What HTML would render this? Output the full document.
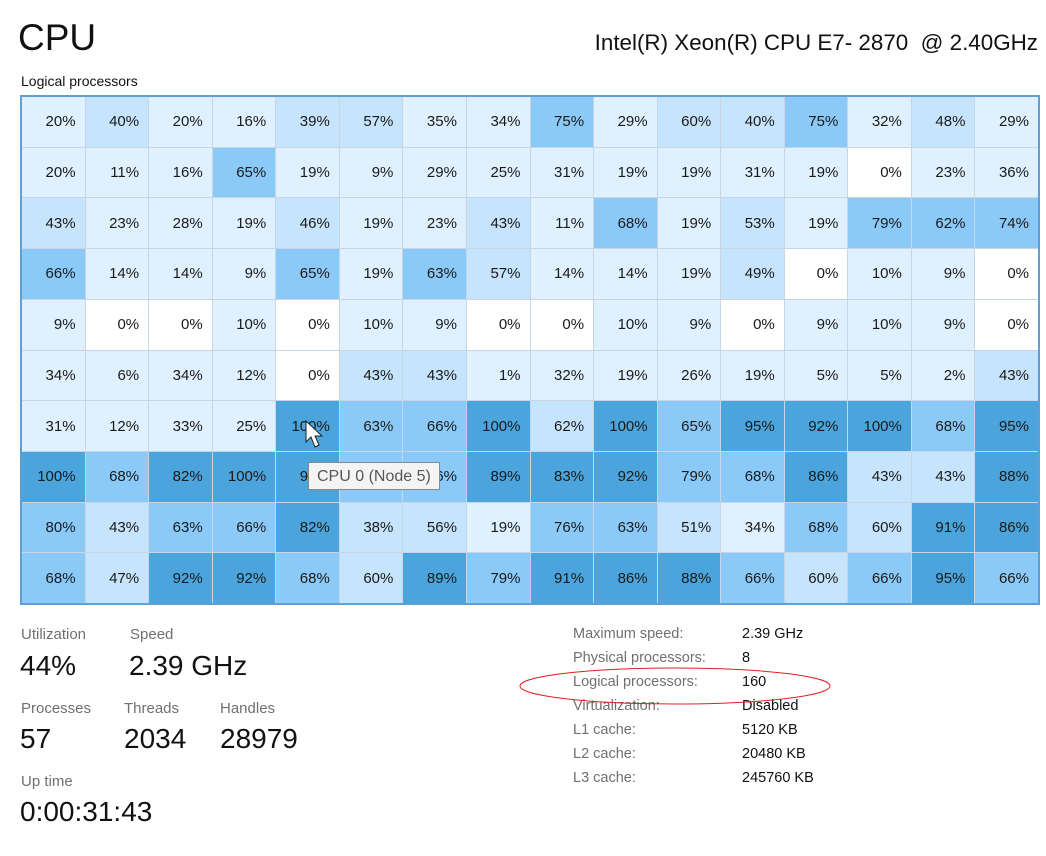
<!DOCTYPE html>
<html><head><meta charset="utf-8"><style>
body{margin:0;width:1046px;height:856px;background:#fff;font-family:"Liberation Sans",sans-serif;position:relative;overflow:hidden;color:#111}
.abs{position:absolute;white-space:nowrap}
#grid{position:absolute;left:20px;top:95px;width:1016px;height:506px;border:2px solid #5f9fd4;background:#c8d6e2;display:grid;grid-template-columns:repeat(16,1fr);grid-template-rows:repeat(10,1fr);gap:1px}
#grid div{text-align:right;padding-right:9px;font-size:15px;display:flex;align-items:center;justify-content:flex-end;color:#1a1a1a}
.a{background:#fff}.b{background:#dff0fe}.c{background:#c6e4fb}.d{background:#8bc9f9}.e{background:#4ba4dc}
.lbl{color:#707070;font-size:15px}
.val{font-size:28px;color:#111}
.rl{color:#707070;font-size:14.5px}
.rv{font-size:14.5px;color:#111}
</style></head><body>
<div class="abs" style="left:18px;top:17px;font-size:37px">CPU</div>
<div class="abs" style="right:8px;top:30px;font-size:22.4px">Intel(R) Xeon(R) CPU E7- 2870&nbsp; @ 2.40GHz</div>
<div class="abs" style="left:21px;top:73px;font-size:14px">Logical processors</div>
<div id="grid">
<div class="b">20%</div><div class="c">40%</div><div class="b">20%</div><div class="b">16%</div><div class="c">39%</div><div class="c">57%</div><div class="b">35%</div><div class="b">34%</div><div class="d">75%</div><div class="b">29%</div><div class="c">60%</div><div class="c">40%</div><div class="d">75%</div><div class="b">32%</div><div class="c">48%</div><div class="b">29%</div>
<div class="b">20%</div><div class="b">11%</div><div class="b">16%</div><div class="d">65%</div><div class="b">19%</div><div class="b">9%</div><div class="b">29%</div><div class="b">25%</div><div class="b">31%</div><div class="b">19%</div><div class="b">19%</div><div class="b">31%</div><div class="b">19%</div><div class="a">0%</div><div class="b">23%</div><div class="b">36%</div>
<div class="c">43%</div><div class="b">23%</div><div class="b">28%</div><div class="b">19%</div><div class="c">46%</div><div class="b">19%</div><div class="b">23%</div><div class="c">43%</div><div class="b">11%</div><div class="d">68%</div><div class="b">19%</div><div class="c">53%</div><div class="b">19%</div><div class="d">79%</div><div class="d">62%</div><div class="d">74%</div>
<div class="d">66%</div><div class="b">14%</div><div class="b">14%</div><div class="b">9%</div><div class="d">65%</div><div class="b">19%</div><div class="d">63%</div><div class="c">57%</div><div class="b">14%</div><div class="b">14%</div><div class="b">19%</div><div class="c">49%</div><div class="a">0%</div><div class="b">10%</div><div class="b">9%</div><div class="a">0%</div>
<div class="b">9%</div><div class="a">0%</div><div class="a">0%</div><div class="b">10%</div><div class="a">0%</div><div class="b">10%</div><div class="b">9%</div><div class="a">0%</div><div class="a">0%</div><div class="b">10%</div><div class="b">9%</div><div class="a">0%</div><div class="b">9%</div><div class="b">10%</div><div class="b">9%</div><div class="a">0%</div>
<div class="b">34%</div><div class="b">6%</div><div class="b">34%</div><div class="b">12%</div><div class="a">0%</div><div class="c">43%</div><div class="c">43%</div><div class="b">1%</div><div class="b">32%</div><div class="b">19%</div><div class="b">26%</div><div class="b">19%</div><div class="b">5%</div><div class="b">5%</div><div class="b">2%</div><div class="c">43%</div>
<div class="b">31%</div><div class="b">12%</div><div class="b">33%</div><div class="b">25%</div><div class="e">100%</div><div class="d">63%</div><div class="d">66%</div><div class="e">100%</div><div class="c">62%</div><div class="e">100%</div><div class="d">65%</div><div class="e">95%</div><div class="e">92%</div><div class="e">100%</div><div class="d">68%</div><div class="e">95%</div>
<div class="e">100%</div><div class="d">68%</div><div class="e">82%</div><div class="e">100%</div><div class="e">94%</div><div class="d">68%</div><div class="d">76%</div><div class="e">89%</div><div class="e">83%</div><div class="e">92%</div><div class="d">79%</div><div class="d">68%</div><div class="e">86%</div><div class="c">43%</div><div class="c">43%</div><div class="e">88%</div>
<div class="d">80%</div><div class="c">43%</div><div class="d">63%</div><div class="d">66%</div><div class="e">82%</div><div class="c">38%</div><div class="c">56%</div><div class="b">19%</div><div class="d">76%</div><div class="d">63%</div><div class="c">51%</div><div class="b">34%</div><div class="d">68%</div><div class="c">60%</div><div class="e">91%</div><div class="e">86%</div>
<div class="d">68%</div><div class="c">47%</div><div class="e">92%</div><div class="e">92%</div><div class="d">68%</div><div class="c">60%</div><div class="e">89%</div><div class="d">79%</div><div class="e">91%</div><div class="e">86%</div><div class="e">88%</div><div class="d">66%</div><div class="c">60%</div><div class="d">66%</div><div class="e">95%</div><div class="d">66%</div>
</div>
<svg class="abs" style="left:305px;top:420px" width="30" height="40"><path d="M1 1 L1 22 L6 17 L10 27 L14 25 L10 16 L17 16 Z" fill="#fff" stroke="#222" stroke-width="1"/></svg>
<div class="abs" style="left:308px;top:462px;width:132px;height:28px;background:#f4f4f4;border:1px solid #8a8a8a;font-size:16px;color:#575757;line-height:28px;padding-left:8px;box-sizing:border-box">CPU 0 (Node 5)</div>

<div class="abs lbl" style="left:21px;top:626px">Utilization</div>
<div class="abs lbl" style="left:130px;top:626px">Speed</div>
<div class="abs val" style="left:20px;top:650px">44%</div>
<div class="abs val" style="left:129px;top:650px">2.39 GHz</div>
<div class="abs lbl" style="left:21px;top:700px">Processes</div>
<div class="abs lbl" style="left:124px;top:700px">Threads</div>
<div class="abs lbl" style="left:220px;top:700px">Handles</div>
<div class="abs val" style="left:20px;top:723px">57</div>
<div class="abs val" style="left:124px;top:723px">2034</div>
<div class="abs val" style="left:220px;top:723px">28979</div>
<div class="abs lbl" style="left:21px;top:773px">Up time</div>
<div class="abs val" style="left:20px;top:796px">0:00:31:43</div>

<div class="abs rl" style="left:573px;top:626px">Maximum speed:</div><div class="abs rv" style="left:742px;top:626px">2.39 GHz</div>
<div class="abs rl" style="left:573px;top:650px">Physical processors:</div><div class="abs rv" style="left:742px;top:650px">8</div>
<div class="abs rl" style="left:573px;top:674px">Logical processors:</div><div class="abs rv" style="left:742px;top:674px">160</div>
<div class="abs rl" style="left:573px;top:698px">Virtualization:</div><div class="abs rv" style="left:742px;top:698px">Disabled</div>
<div class="abs rl" style="left:573px;top:722px">L1 cache:</div><div class="abs rv" style="left:742px;top:722px">5120 KB</div>
<div class="abs rl" style="left:573px;top:746px">L2 cache:</div><div class="abs rv" style="left:742px;top:746px">20480 KB</div>
<div class="abs rl" style="left:573px;top:770px">L3 cache:</div><div class="abs rv" style="left:742px;top:770px">245760 KB</div>
<svg class="abs" style="left:515px;top:665px" width="320" height="42"><ellipse cx="160" cy="21" rx="155" ry="18" fill="none" stroke="#e02020" stroke-width="1"/></svg>
</body></html>
